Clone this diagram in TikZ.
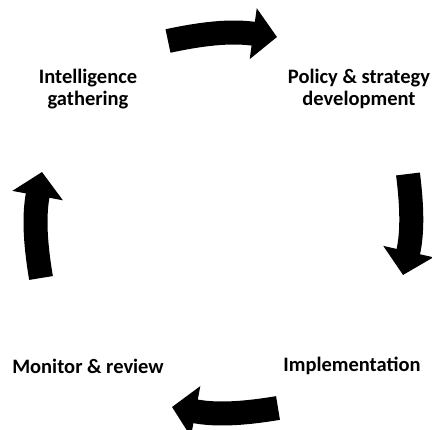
\documentclass[tikz,border=0pt]{standalone}
\usepackage{fontspec}
\setmainfont{Carlito}
\usetikzlibrary{arrows.meta}
\begin{document}
\begin{tikzpicture}[x=1pt,y=1pt,
    lbl/.style={font=\bfseries\fontsize{20.5}{22.5}\selectfont,align=center,inner sep=0pt},
    cycarrow/.style={line width=24pt,-{Triangle[length=24pt,width=50pt]}}]
  \useasboundingbox (0,0) rectangle (432,430);
  \draw
    (88,341) node[lbl] (gather){Intelligence\\gathering}
    (359,341) node[lbl] (policy){Policy \& strategy\\development}
    (352,64) node[lbl] (impl){Implementation}
    (88,64) node[lbl] (monitor){Monitor \& review};
  \coordinate (t0) at (168,389);
  \coordinate (t1) at (277,393);
  \coordinate (r0) at (408,256);
  \coordinate (r1) at (403,155);
  \coordinate (b0) at (278,22);
  \coordinate (b1) at (172,23);
  \coordinate (l0) at (41,152);
  \coordinate (l1) at (42,258);
  \begin{scope}[cycarrow]
    \draw (t0) to[bend left=10] (t1);
    \draw (r0) to[bend left=10] (r1);
    \draw (b0) to[bend left=10] (b1);
    \draw (l0) to[bend left=10] (l1);
  \end{scope}
\end{tikzpicture}
\end{document}
